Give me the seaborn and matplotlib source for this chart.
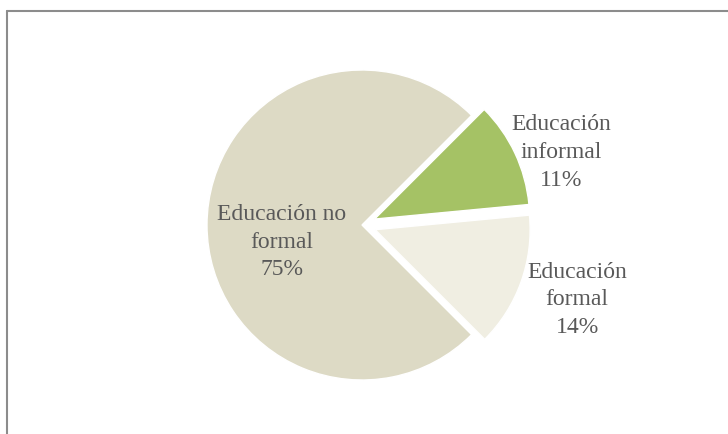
import numpy as np
import matplotlib
matplotlib.use("Agg")
import matplotlib.pyplot as plt
from matplotlib.lines import Line2D
import seaborn as sns

# Data
categories = ["Educación informal", "Educación formal", "Educación no formal"]
label_lines = ["Educación\ninformal", "Educación\nformal", "Educación no\nformal"]
shares = [11, 14, 75]

sns.set_theme(style="white")
plt.rcParams["font.family"] = ["Liberation Serif", "DejaVu Serif"]

colors = sns.color_palette(["#A5C265", "#F0EEE2", "#DDDAC5"])

W, H = 728, 434
fig = plt.figure(figsize=(W / 100, H / 100), dpi=100)
ax = fig.add_axes([0, 0, 1, 1])

cx, cy, r = 362, H - 225, 155
explode_frac = [0.09, 0.09, 0.0]
wedges, _ = ax.pie(
    shares,
    colors=colors,
    startangle=45,
    counterclock=False,
    explode=[e * r for e in explode_frac],
    center=(cx, cy),
    radius=r,
    wedgeprops=dict(edgecolor="white", linewidth=1),
    frame=True,
)
ax.set_xlim(0, W)
ax.set_ylim(0, H)
ax.set_aspect("equal")
ax.axis("off")

# label placement: (distance in radii, angle offset in degrees) per wedge
placement = [(1.37, -5.2), (1.47, 0.6), (0.53, 12.0)]
for w, txt, val, (dist, dang) in zip(wedges, label_lines, shares, placement):
    theta = np.deg2rad((w.theta1 + w.theta2) / 2 + dang)
    x = cx + dist * r * np.cos(theta)
    y = cy + dist * r * np.sin(theta)
    ax.text(x, y, f"{txt}\n{val}%", ha="center", va="center",
            fontsize=17, color="#595959", linespacing=1.42)

# frame lines along top and left
fig.add_artist(Line2D([6.5 / W, 1], [1 - 10.5 / H, 1 - 10.5 / H],
                      transform=fig.transFigure, color="#8C8C8C", lw=1.5))
fig.add_artist(Line2D([6.5 / W, 6.5 / W], [0, 1 - 10.5 / H],
                      transform=fig.transFigure, color="#8C8C8C", lw=1.5))

fig.savefig("out.png", dpi=100, facecolor="white")
